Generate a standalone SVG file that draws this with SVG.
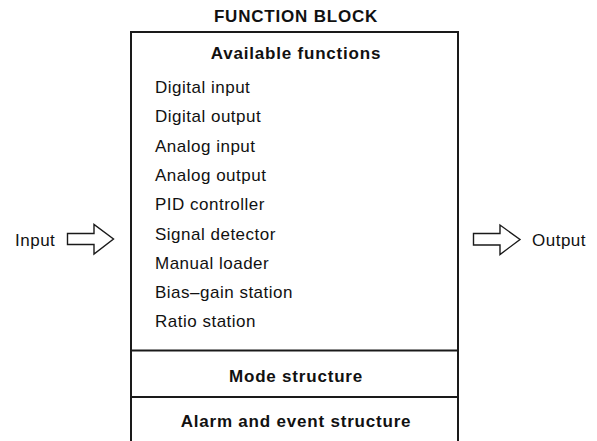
<svg xmlns="http://www.w3.org/2000/svg" width="597" height="441" viewBox="0 0 597 441">
<style>
text{font-family:"Liberation Sans",Arial,sans-serif;fill:#111;font-size:17px}
.b{font-weight:bold;letter-spacing:0.8px}
.r{letter-spacing:0.5px}
.box{fill:none;stroke:#1a1a1a;stroke-width:2}
.arr{fill:#fff;stroke:#1a1a1a;stroke-width:1.4;stroke-linejoin:miter}
</style>
<rect width="597" height="441" fill="#fff"/>
<text class="b" x="296" y="22" text-anchor="middle">FUNCTION BLOCK</text>
<g id="function-block">
<path class="box" d="M131,443 V32 H458 V443"/>
<line class="box" x1="131" y1="350.5" x2="458" y2="350.5"/>
<line class="box" x1="131" y1="397" x2="458" y2="397"/>
</g>
<g id="available-functions">
<text class="b" x="296" y="59" text-anchor="middle">Available functions</text>
<text class="r" x="155" y="93">Digital input</text>
<text class="r" x="155" y="122.3">Digital output</text>
<text class="r" x="155" y="151.6">Analog input</text>
<text class="r" x="155" y="180.9">Analog output</text>
<text class="r" x="155" y="210.2">PID controller</text>
<text class="r" x="155" y="239.5">Signal detector</text>
<text class="r" x="155" y="268.8">Manual loader</text>
<text class="r" x="155" y="298.1">Bias–gain station</text>
<text class="r" x="155" y="327.4">Ratio station</text>
</g>
<g id="mode-structure">
<text class="b" x="296" y="382" text-anchor="middle">Mode structure</text>
</g>
<g id="alarm-event-structure">
<text class="b" x="296" y="427" text-anchor="middle">Alarm and event structure</text>
</g>
<g id="input">
<text class="r" x="15" y="246">Input</text>
</g>
<g id="output">
<text class="r" x="532" y="246">Output</text>
</g>
<g id="connectors">
<polygon class="arr" points="67.5,233.5 94,233.5 94,224.5 113.5,239 94,254 94,244.5 67.5,244.5"/>
<polygon class="arr" points="473.5,233.5 500,233.5 500,225 520,239.5 500,254.5 500,245 473.5,245"/>
</g>
</svg>
